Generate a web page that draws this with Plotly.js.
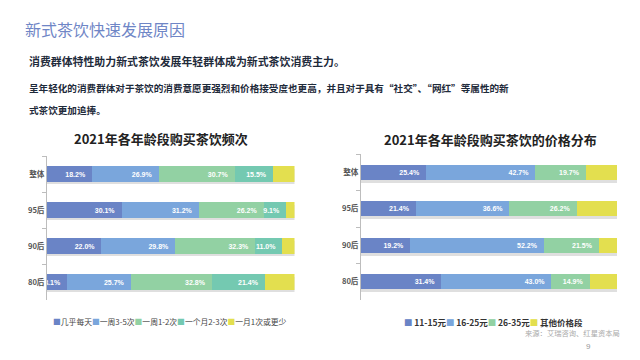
<!DOCTYPE html>
<html>
<head>
<meta charset="utf-8">
<script src="https://cdn.plot.ly/plotly-3.0.1.min.js"></script>
<style>html,body{margin:0;padding:0;background:#fff;}#chart{width:640px;height:360px;}</style>
</head>
<body>
<div id="chart"></div>
<script>
// ---- data ----
const categories = ['整体', '95后', '90后', '80后'];

const freqNames = ['几乎每天', '一周3-5次', '一周1-2次', '一个月2-3次', '一月1次或更少'];
const freqDaily   = [18.2, 30.1, 22.0, 8.1];
const freqWeek35  = [26.9, 31.2, 29.8, 25.7];
const freqWeek12  = [30.7, 26.2, 32.3, 32.8];
const freqMonth23 = [15.5, 9.1, 11.0, 21.4];
const freqMonth1  = [8.7, 3.4, 4.9, 12.0];

const priceNames = ['11-15元', '16-25元', '26-35元', '其他价格段'];
const price1115  = [25.4, 21.4, 19.2, 31.4];
const price1625  = [42.7, 36.6, 52.2, 43.0];
const price2635  = [19.7, 26.2, 21.5, 14.9];
const priceOther = [12.2, 15.8, 7.1, 10.7];

const freqColors  = ['#6a84c6', '#7aa6dc', '#92d1a3', '#74c9b1', '#e3df4f'];
const priceColors = ['#6a84c6', '#7aa6dc', '#92d1a3', '#e3df4f'];

const FONT = '"Noto Sans CJK SC", "Liberation Sans", sans-serif';
const NUMFONT = '"Liberation Sans", "Noto Sans CJK SC", sans-serif';

const freqSeries  = [freqDaily, freqWeek35, freqWeek12, freqMonth23, freqMonth1];
const priceSeries = [price1115, price1625, price2635, priceOther];

function totals(series) {
  return categories.map((_, i) => series.reduce((s, arr) => s + arr[i], 0));
}

const traces = [];
const BW = 0.42;

// shadows (drawn on base axes, beneath)
traces.push({type:'bar', orientation:'h', y:categories, x:totals(freqSeries), xaxis:'x', yaxis:'y',
  width:BW, marker:{color:'rgba(110,110,110,0.22)'}, showlegend:false, hoverinfo:'skip'});
traces.push({type:'bar', orientation:'h', y:categories, x:totals(priceSeries), xaxis:'x2', yaxis:'y2',
  width:BW, marker:{color:'rgba(110,110,110,0.22)'}, showlegend:false, hoverinfo:'skip'});

function addSeries(series, names, colors, xa, ya) {
  series.forEach((vals, k) => {
    const last = k === series.length - 1;
    traces.push({
      type:'bar', orientation:'h', name:names[k], y:categories, x:vals,
      xaxis:xa, yaxis:ya, width:BW,
      marker:{color:colors[k], line:{width:0}},
      text: last ? null : vals.map(v => v.toFixed(1) + '%\u00a0\u00a0'),
      textposition: last ? 'none' : 'inside',
      insidetextanchor:'end', constraintext:'none', cliponaxis:false,
      textfont:{family:NUMFONT, size:7, color:'#ffffff', weight:'bold'},
      showlegend:false, hoverinfo:'skip'
    });
  });
}
addSeries(freqSeries, freqNames, freqColors, 'x3', 'y3');
addSeries(priceSeries, priceNames, priceColors, 'x4', 'y4');

const D = 0.08;
const hidX = {visible:false, range:[0,100], fixedrange:true};
const catAxis = {
  type:'category', categoryorder:'array', categoryarray:categories,
  range:[3.5, -0.5], showline:true, linecolor:'#bdbdbd', linewidth:1,
  ticks:'outside', tickson:'boundaries', ticklen:4, tickcolor:'#bdbdbd',
  showgrid:false, zeroline:false,
  tickfont:{family:FONT, size:7.6, color:'#555', weight:'bold'}
};
const shadowY = {type:'category', categoryorder:'array', categoryarray:categories,
  range:[3.5 - D, -0.5 - D], visible:false};

function legendText(names, colors, gap) {
  return names.map((n, i) => `<span style="color:${colors[i]}">■</span>${gap}${n}`).join('');
}
function px(x){return x/640;}
function py(y){return 1 - y/360;}

const annotations = [
  {text:'新式茶饮快速发展原因', x:px(23), y:py(29), xanchor:'left', yanchor:'middle',
   font:{family:FONT, size:16, color:'#6f86c6'}},
  {text:'消费群体特性助力新式茶饮发展年轻群体成为新式茶饮消费主力。', x:px(27), y:py(61), xanchor:'left', yanchor:'middle',
   font:{family:FONT, size:10.9, color:'#1e2a3a', weight:'bold'}},
  {text:'呈年轻化的消费群体对于茶饮的消费意愿更强烈和价格接受度也更高，并且对于具有“社交”、“网红”等属性的新', x:px(27), y:py(88), xanchor:'left', yanchor:'middle',
   font:{family:FONT, size:9.6, color:'#1e2a3a', weight:'bold'}},
  {text:'式茶饮更加追捧。', x:px(27), y:py(110), xanchor:'left', yanchor:'middle',
   font:{family:FONT, size:9.6, color:'#1e2a3a', weight:'bold'}},
  {text:'2021年各年龄段购买茶饮频次', x:px(160.5), y:py(138), xanchor:'center', yanchor:'middle',
   font:{family:FONT, size:13, color:'#222', weight:'bold'}},
  {text:'2021年各年龄段购买茶饮的价格分布', x:px(490), y:py(139), xanchor:'center', yanchor:'middle',
   font:{family:FONT, size:13, color:'#222', weight:'bold'}},
  {text:legendText(freqNames, freqColors, ''), x:px(51), y:py(321), xanchor:'left', yanchor:'middle',
   font:{family:FONT, size:7.8, color:'#444'}},
  {text:legendText(priceNames, priceColors, '\u2009'), x:px(402), y:py(322), xanchor:'left', yanchor:'middle',
   font:{family:FONT, size:8.5, color:'#333', weight:'bold'}},
  {text:'来源：艾瑞咨询、红星资本局', x:px(622), y:py(333), xanchor:'right', yanchor:'middle',
   font:{family:FONT, size:7.3, color:'#aaaaaa'}},
  {text:'9', x:px(588), y:py(346), xanchor:'center', yanchor:'middle',
   font:{family:NUMFONT, size:8, color:'#999'}}
].map(a => Object.assign({xref:'paper', yref:'paper', showarrow:false}, a));

const leftDom = [px(47), px(294.5)];
const rightDom = [px(361), px(617)];
const leftYDom = [py(300), py(156)];
const rightYDom = [py(300), py(154)];

const layout = {
  width:640, height:360, margin:{l:0, r:0, t:0, b:0},
  paper_bgcolor:'#ffffff', plot_bgcolor:'rgba(0,0,0,0)',
  barmode:'stack', showlegend:false, hovermode:false,
  font:{family:FONT},
  xaxis: Object.assign({}, hidX, {domain:leftDom, anchor:'y'}),
  yaxis: Object.assign({}, shadowY, {domain:leftYDom, anchor:'x'}),
  xaxis2: Object.assign({}, hidX, {domain:rightDom, anchor:'y2'}),
  yaxis2: Object.assign({}, shadowY, {domain:rightYDom, anchor:'x2'}),
  xaxis3: Object.assign({}, hidX, {overlaying:'x', anchor:'y3'}),
  yaxis3: Object.assign({}, catAxis, {overlaying:'y', anchor:'x3', side:'left'}),
  xaxis4: Object.assign({}, hidX, {overlaying:'x2', anchor:'y4'}),
  yaxis4: Object.assign({}, catAxis, {overlaying:'y2', anchor:'x4', side:'left'}),
  annotations: annotations
};

Plotly.newPlot('chart', traces, layout, {staticPlot:true, displayModeBar:false});
</script>
</body>
</html>
